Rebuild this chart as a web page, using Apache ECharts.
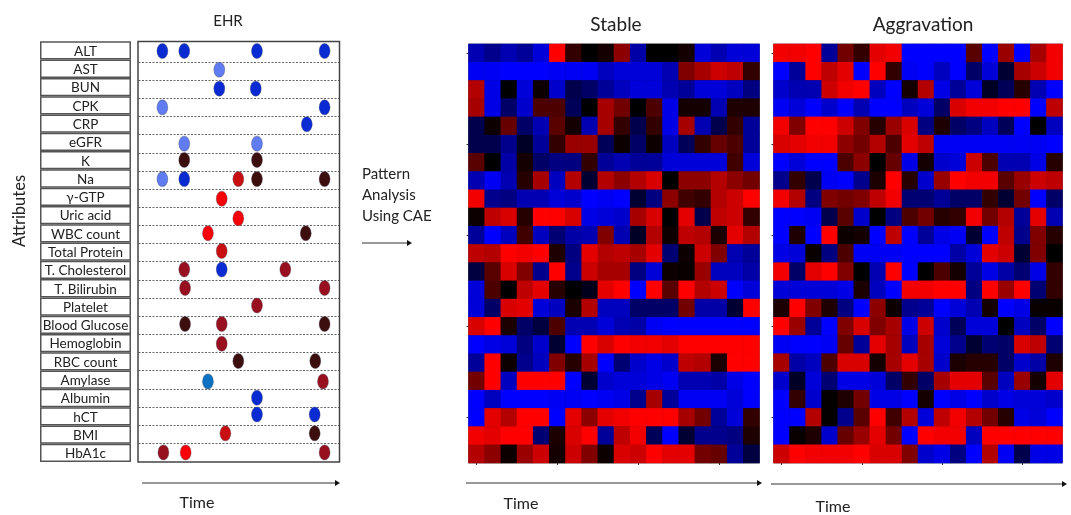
<!DOCTYPE html>
<html><head><meta charset="utf-8">
<style>html,body{margin:0;padding:0;background:#fff}#c{width:1071px;height:515px}</style>
<script src="https://cdn.jsdelivr.net/npm/echarts@6/dist/echarts.min.js"></script>
</head><body><div id="c"></div>
<script>
const attributes = ['ALT','AST','BUN','CPK','CRP','eGFR','K','Na','γ-GTP','Uric acid','WBC count','Total Protein','T. Cholesterol','T. Bilirubin','Platelet','Blood Glucose','Hemoglobin','RBC count','Amylase','Albumin','hCT','BMI','HbA1c'];
const rowNudge = [-.1,-.07,-.03,0,-.07,0,-.1,-.05,.03,.11,-.07,-.09,-.07,-.05,-.09,-.07,.02,-.03,.09,-.01,-.09,-.05,0];
const LIGHT='#5f7cf2', BLUE='#0a2bd2', DARK='#3d0e0e', RED='#f70208', CRIM='#c80f12', MAROON='#98101f', TEAL='#0d72c2';
// [attribute index, time (0-100), colour]
const ehrEvents = [
 [0,11.8,BLUE],[0,22.6,BLUE],[0,58.5,BLUE],[0,91.9,BLUE],
 [1,39.9,LIGHT],
 [2,39.9,BLUE],[2,57.9,BLUE],
 [3,11.8,LIGHT],[3,91.9,BLUE],
 [4,83.1,BLUE],
 [5,22.6,LIGHT],[5,58.5,LIGHT],
 [6,22.6,DARK],[6,58.5,DARK],
 [7,11.8,LIGHT],[7,22.6,BLUE],[7,49.3,CRIM],[7,58.5,DARK],[7,91.9,DARK],
 [8,41.1,RED],
 [9,49.3,RED],
 [10,34.3,RED],[10,82.6,DARK],
 [11,41.1,CRIM],
 [12,22.6,MAROON],[12,41.1,BLUE],[12,72.5,MAROON],
 [13,23,MAROON],[13,91.9,MAROON],
 [14,58.5,MAROON],
 [15,23,DARK],[15,41.1,MAROON],[15,91.9,DARK],
 [16,41.1,MAROON],
 [17,49.3,DARK],[17,87.3,DARK],
 [18,34.3,TEAL],[18,91.1,MAROON],
 [19,58.5,BLUE],
 [20,58.5,BLUE],[20,87,BLUE],
 [21,42.9,CRIM],[21,87,DARK],
 [22,12.3,MAROON],[22,23.3,RED],[22,91.9,MAROON]
];
const stableRows = [
[-.7,-.55,-.7,-.6,-.85,1,.2,0,.08,.55,-.65,0,0,.08,-.85,-.7,-.85,-.85],
[-.95,-.95,-1,-1,-1,-.95,-.95,-.95,-.75,-.85,-.85,-.85,-.7,.5,.65,.8,.75,.2],
[.7,-.9,0,-.85,.05,-.8,-.3,-.4,-.6,-.75,-.85,-.85,-.7,-.6,-.85,-.85,-.75,-.5],
[.65,-.9,-.4,-.8,.3,.3,-.35,0,.65,.45,0,.3,-.9,.08,.08,-.7,.12,.12],
[-.3,.05,.4,-.4,-.7,.35,.08,-.7,.65,.2,-.3,.2,-.9,.65,-.7,-.3,.2,-.6],
[-.3,-.3,-.55,-.15,-.6,.2,.6,.6,-.35,.05,-.4,.05,-.75,-.35,.2,.4,.3,-.6],
[.35,0,-.65,.08,-.4,-.5,-.5,.2,-.6,-.7,-.6,-.6,-.85,-.85,-.85,-.85,.25,-.85],
[-.7,-.95,-.7,.15,.65,-.75,.7,-.2,.7,.55,.7,.85,0,.55,.55,.7,.55,.45],
[.95,-.55,-.5,-.7,-.7,-.85,-.8,-1,-.95,-1,-.2,-.5,.55,.25,.2,.7,.8,1],
[.05,.75,.85,.15,1,1,.85,-.9,-.85,-.8,.65,.85,0,.9,-.3,.75,.8,.2],
[-.6,-1,-.75,.25,-.75,-.45,-.65,-.7,.5,-.7,-.15,.7,.05,.75,.7,.1,.9,.7],
[.75,.7,1,.95,1,.12,-.5,.9,.7,.75,.65,.9,-.45,.05,.8,.5,-.7,-.6],
[-.25,.35,.85,.5,-.55,1,-.55,.8,.65,.65,-.5,-.85,.05,.03,.6,-.75,-.75,-.65],
[-.85,.3,0,.75,.9,.15,0,-.1,.9,1,-1,1,.35,1,.7,.8,-1,-.85],
[-.85,-.4,.85,.9,-.85,-.75,.1,.7,-.75,-.75,-.4,-.4,-.4,.45,-.65,-.65,-.2,1],
[.85,1,.1,-.4,-.25,.3,-.7,-.7,-.85,-.7,-.65,-.95,-1,-1,-1,-1,-1,-1],
[-1,-.9,-.85,-.5,-.8,-.2,-1,1,.85,1,.95,.95,.9,1,1,1,1,1],
[-.6,1,.05,-.55,-.75,.5,.15,.65,-1,-.45,-.8,-.9,-.8,.75,.7,.1,1,1],
[.45,1,-.75,1,1,1,-1,-.2,-.8,-.85,-.85,-.9,-.95,-.7,-.7,-.65,-.9,-1],
[-1,-.75,-1,-1,-1,-.95,-.95,-1,-.95,-.9,-.55,.65,-.6,-.95,-.95,-.95,-.85,-1],
[-1,.9,.7,1,1,-1,.9,.55,.9,.95,1,1,1,.65,.45,-.6,-.85,.2],
[.95,.9,1,1,-.45,.1,.85,1,-.6,.75,.95,-.35,-1,-.2,-.55,-.55,-.5,.12],
[.7,.55,.05,.6,.8,.08,.8,.5,.05,.85,.8,1,.9,.9,.45,.4,-.6,-.25]
];
const aggravationRows = [
[.95,.95,1,-.6,.45,.2,.9,.95,-1,-1,-1,-1,.35,-1,.6,-1,.65,.95],
[-1,-.6,1,.75,.9,-1,1,.2,-.95,-1,-.75,-1,-.4,-.85,-.2,.65,.8,.95],
[-.8,-.7,-.7,.8,.95,1,-.75,-1,.08,.7,-.9,-.6,-.85,-.15,-.35,.15,-.7,-1],
[-.95,-.85,-1,-.8,-1,-.7,-1,-1,-.75,-.85,-.4,.85,.95,.95,1,1,-1,.75],
[.95,.5,1,1,.8,.5,.15,.6,.85,-.5,.12,-.4,-.5,-.75,-.35,-1,0,-.75],
[.85,.9,.95,.95,.55,.45,.7,.3,.9,.75,-.95,-.95,-.95,-.95,-.95,-.95,-.95,-1],
[-1,-.85,-1,-1,.3,.55,0,.4,-.9,.08,-.8,-.85,.8,.3,-.7,-.7,-.9,.15],
[-.55,.2,-.3,-.95,-1,-.55,.1,1,.15,-.8,.6,1,.95,.95,.35,.6,.8,.75],
[.95,.7,-.5,.5,.45,.5,.75,.95,-.45,-.45,-.6,-.4,-.4,.2,-.2,.45,-1,-.4],
[-1,-1,-.95,-.3,.35,-.8,0,-.5,.3,.45,.15,.2,.95,.45,.7,-.6,.9,-.7],
[-1,.12,-1,1,.05,.08,-1,.75,-1,-.6,-.9,-.95,-.2,-1,.75,-.55,.5,.15],
[-.9,-.85,.03,-.5,.3,-.95,-.95,-.95,-1,-1,-1,-.65,-.85,.9,.8,-.2,.5,0],
[.95,-.4,.9,1,.5,0,-.7,1,-1,0,.3,.08,-.6,-.9,-.65,-.45,-.9,.2],
[-.85,-.85,-.85,-.85,-.9,.1,-.75,-1,.95,.95,1,1,-.5,1,.6,1,-.45,.2],
[.1,1,.5,.12,-.5,-1,.55,.05,-.55,-.6,-1,-.85,-.7,.08,-1,-.9,.03,.03],
[1,.6,-.6,-1,.5,.85,.5,.65,-.9,.8,-.8,-.35,-.85,-.85,0,-.75,-.4,-1],
[-.95,-1,-1,-.95,.4,-.6,.9,.65,-.75,.65,-.85,-.55,-.2,-.45,-.4,.85,.75,-.45],
[.65,-.65,-.75,.3,.85,.85,.08,.65,.9,.65,-.8,.1,.15,.15,-.4,-.8,-.65,.12],
[-.8,-.15,-.85,-.45,-.9,-.9,-.85,-.4,.2,-.4,.65,.9,.9,.35,-.75,.6,.08,.9],
[-1,.2,-.8,.02,.12,.45,-.9,-.9,-1,.08,-1,-.9,-1,-.8,-.9,-.85,-.85,-.8],
[-1,-1,.7,.02,-.55,.35,1,.25,.7,-.85,.75,.95,.7,.45,.15,-.9,-.85,-1],
[-1,.03,.12,-.8,.4,.6,.9,.45,-1,1,.95,.95,-.75,1,1,1,1,1],
[.8,1,.95,.95,.95,1,.85,.85,.5,-.8,-.9,-.5,-1,.7,-.95,-.3,-.9,-.9]
];
const timeSteps = stableRows[0].map((_, i) => i);
const rowSteps = stableRows.map((_, i) => i);
const FONT = 'Lato';
const INK = '#222';

const flat = rows => rows.flatMap((r, y) => r.map((v, x) => [x, y, v]));
const heatGrid = g => ({left:g[0], top:44, width:g[1], height:419, show:true, borderColor:'#777', borderWidth:1, backgroundColor:'#000'});
const hidden = {show:false};
const heatX = i => ({type:'category', gridIndex:i, data:timeSteps, axisLabel:hidden, splitLine:hidden,
  axisLine:hidden, axisTick:{show:true, alignWithLabel:true, interval:4, length:2, lineStyle:{color:'#333'}}});
const heatY = i => ({type:'category', gridIndex:i, data:rowSteps, inverse:true, axisLabel:hidden, splitLine:hidden,
  axisLine:hidden, axisTick:{show:true, alignWithLabel:true, interval:4, length:2, lineStyle:{color:'#333'}}});

const arrow = (x1, x2, y) => [
  {type:'line', shape:{x1, y1:y, x2:x2-4, y2:y}, style:{stroke:'#333', lineWidth:1.2}},
  {type:'polygon', shape:{points:[[x2-5,y-3],[x2,y],[x2-5,y+3]]}, style:{fill:'#111'}}
];
const note = (text, x, y, size, extra, rotation) => ({type:'text', x, y, rotation:rotation||0, style:Object.assign({text, fill:INK,
  font:size+'px '+FONT, textAlign:'center', textVerticalAlign:'middle'}, extra||{})});
const plotTitle = (text, x, top, size) => ({text, left:x, top, textAlign:'center',
  textStyle:{fontSize:size, fontWeight:'normal', color:INK, fontFamily:FONT}});

const chart = echarts.init(document.getElementById('c'));
chart.setOption({
  animation:false,
  backgroundColor:'#fff',
  textStyle:{fontFamily:FONT},
  title:[ plotTitle('EHR',223,9,15), plotTitle('Stable',611,10,19), plotTitle('Aggravation',918,10,19) ],
  visualMap:{show:false, type:'continuous', min:-1, max:1, dimension:2, seriesIndex:[2,3],
    inRange:{color:['#0000ff','#000000','#ff0000']}},
  grid:[
    {left:40, top:41.3, width:91, height:420.7},
    {left:138.5, top:43.8, width:202.5, height:417.7},
    heatGrid([468.5,291]),
    heatGrid([773.5,289])
  ],
  xAxis:[
    {type:'value', gridIndex:0, min:0, max:1, show:false},
    {type:'value', gridIndex:1, min:0, max:100, show:false},
    heatX(2), heatX(3)
  ],
  yAxis:[
    {type:'category', gridIndex:0, data:attributes, inverse:true, axisLabel:hidden, axisTick:hidden, axisLine:hidden},
    {type:'value', gridIndex:1, min:0, max:23, interval:1, inverse:true, axisLabel:hidden, axisTick:hidden, axisLine:hidden,
     splitLine:{show:true, showMinLine:false, showMaxLine:false, lineStyle:{type:[2,1.5], color:'#666', width:1}}},
    heatY(2), heatY(3)
  ],
  series:[
    {type:'bar', xAxisIndex:0, yAxisIndex:0, barWidth:'100%', silent:true,
     data:attributes.map(() => 1),
     itemStyle:{color:'#fff', borderColor:'#555', borderWidth:1.5},
     label:{show:true, position:'inside', offset:[0,1], formatter:p => p.name, fontSize:13.5, color:INK, fontFamily:FONT}},
    {type:'scatter', xAxisIndex:1, yAxisIndex:1, symbol:'circle', symbolSize:[11,15], z:5, silent:true,
     data:ehrEvents.map(e => ({value:[e[1], e[0]+.5+rowNudge[e[0]]], itemStyle:{color:e[2], opacity:1}})),
     itemStyle:{opacity:1, borderColor:'rgba(70,70,90,0.35)', borderWidth:1}},
    {type:'heatmap', xAxisIndex:2, yAxisIndex:2, data:flat(stableRows), silent:true},
    {type:'heatmap', xAxisIndex:3, yAxisIndex:3, data:flat(aggravationRows), silent:true}
  ],
  graphic:[
    {type:'rect', shape:{x:138,y:41.5,width:201.5,height:420.5}, style:{fill:'none', stroke:'#444', lineWidth:1.5}, z:3},
    ...arrow(142,340,483), ...arrow(466,762,483), ...arrow(771,1067,484), ...arrow(362,412,243),
    note('Attributes',20,211,16.5,null,Math.PI/2),
    note('Time',197,503,16), note('Time',521,504,16), note('Time',833,507,16),
    note('Pattern',362,174,15,{textAlign:'left'}), note('Analysis',362,195,15,{textAlign:'left'}), note('Using CAE',362,216,15,{textAlign:'left'})
  ]
});
</script></body></html>
